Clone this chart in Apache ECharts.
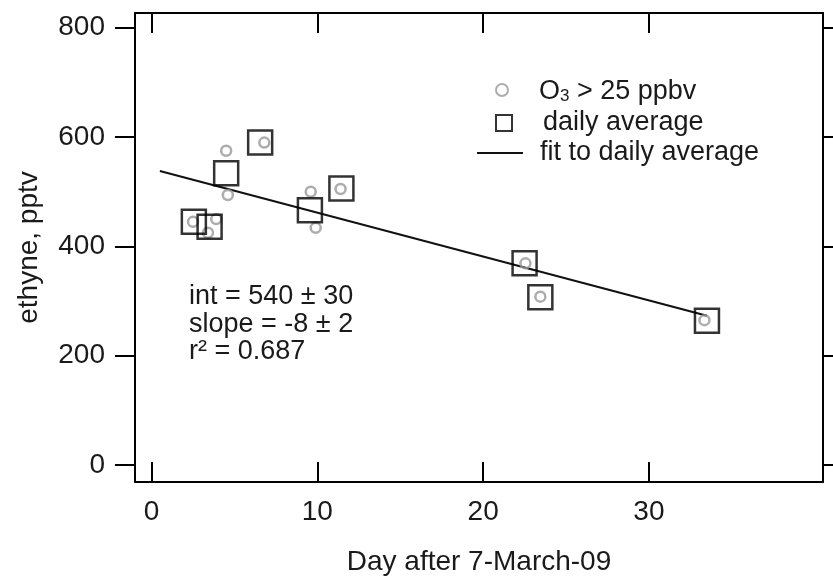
<!DOCTYPE html>
<html>
<head>
<meta charset="utf-8">
<script src="https://cdn.jsdelivr.net/npm/echarts@6/dist/echarts.min.js"></script>
<style>html,body{margin:0;padding:0;background:#fff}#c{width:833px;height:585px}</style>
</head>
<body>
<div id="c"></div>
<script>
// ---- data ----
var circleX = [2.5, 3.4, 3.9, 4.5, 4.6, 6.8, 9.6, 9.9, 11.4, 22.55, 23.45, 33.35];
var circleY = [445, 425, 450, 575, 494, 590, 500, 434, 505, 369, 308, 265];
var squareX = [2.55, 3.5, 4.5, 6.55, 9.55, 11.45, 22.5, 23.45, 33.5];
var squareY = [445, 436, 534, 590, 466, 506, 369, 307, 264];
var fitX = [0.5, 33.5];
var fitY = [538, 273];
var xTicks = [0, 10, 20, 30];
var yTicks = [0, 200, 400, 600, 800];
var statsLines = ['int = 540 \u00b1 30', 'slope = -8 \u00b1 2', 'r\u00b2 = 0.687'];

function pairs(xs, ys) { return xs.map(function (x, i) { return [x, ys[i]]; }); }

var FONT = '"Liberation Sans", Arial, Helvetica, sans-serif';
var TXT = '#1a1a1a';
var chart = echarts.init(document.getElementById('c'), null, { renderer: 'canvas' });

var xBase = { type: 'value', min: -1, max: 40.5, splitLine: { show: false },
  axisLine: { show: true, onZero: false, lineStyle: { color: '#000', width: 2 } } };
var yBase = { type: 'value', min: -31, max: 827, splitLine: { show: false },
  axisLine: { show: true, onZero: false, lineStyle: { color: '#000', width: 2 } } };

var legendText = { fontFamily: FONT, fontSize: 27, color: TXT, lineHeight: 30 };

chart.setOption({
  animation: false,
  grid: { left: 135, right: 10, top: 13, bottom: 103 },
  xAxis: [
    Object.assign({}, xBase, {
      position: 'bottom',
      name: 'Day after 7-March-09', nameLocation: 'middle', nameGap: 66,
      nameTextStyle: { fontFamily: FONT, fontSize: 28, color: TXT },
      axisTick: { show: true, inside: true, length: 20, customValues: xTicks, lineStyle: { color: '#000', width: 2 } },
      axisLabel: { show: true, margin: 16, customValues: xTicks, fontFamily: FONT, fontSize: 28, color: TXT }
    }),
    Object.assign({}, xBase, {
      position: 'top',
      axisTick: { show: true, inside: true, length: 20, customValues: xTicks, lineStyle: { color: '#000', width: 2 } },
      axisLabel: { show: false }
    })
  ],
  yAxis: [
    Object.assign({}, yBase, {
      position: 'left',
      name: 'ethyne, pptv', nameLocation: 'middle', nameGap: 92,
      nameTextStyle: { fontFamily: FONT, fontSize: 28, color: TXT },
      axisTick: { show: true, inside: false, length: 20, customValues: yTicks, lineStyle: { color: '#000', width: 2 } },
      axisLabel: { show: true, margin: 30, customValues: yTicks, fontFamily: FONT, fontSize: 28, color: TXT }
    }),
    Object.assign({}, yBase, {
      position: 'right',
      axisTick: { show: true, inside: false, length: 12, customValues: yTicks, lineStyle: { color: '#000', width: 2 } },
      axisLabel: { show: false }
    })
  ],
  legend: [
    { data: [{ name: 'O3', icon: 'circle' }], left: 495, top: 75, itemWidth: 12, itemHeight: 12,
      selectedMode: false, padding: 0,
      formatter: function () { return '{n|O}{s|3}{n| > 25 ppbv}'; },
      textStyle: Object.assign({}, legendText, { padding: [0, 0, 0, 26],
        rich: { n: { fontFamily: FONT, fontSize: 27, color: TXT, lineHeight: 30, verticalAlign: 'bottom' },
                s: { fontFamily: FONT, fontSize: 17, color: TXT, lineHeight: 17, verticalAlign: 'bottom' } } }) },
    { data: [{ name: 'daily average', icon: 'rect' }], left: 495, top: 108, itemWidth: 16, itemHeight: 16,
      selectedMode: false, padding: 0,
      textStyle: Object.assign({}, legendText, { padding: [0, 0, 0, 26] }) },
    { data: [{ name: 'fit to daily average', icon: 'rect', itemStyle: { color: '#111', borderWidth: 0 } }],
      left: 477, top: 138, itemWidth: 46, itemHeight: 2,
      selectedMode: false, padding: 0,
      textStyle: Object.assign({}, legendText, { padding: [0, 0, 0, 12] }) }
  ],
  graphic: [
    { type: 'text', left: 189, top: 283, silent: true,
      style: { text: statsLines.join('\n'), font: '27px ' + FONT, fill: TXT, lineHeight: 27.5 } }
  ],
  series: [
    { name: 'fit to daily average', type: 'line', data: pairs(fitX, fitY), symbol: 'none',
      lineStyle: { color: '#111', width: 2 }, itemStyle: { color: '#111' }, z: 2 },
    { name: 'O3', type: 'scatter', data: pairs(circleX, circleY), symbol: 'circle', symbolSize: 10,
      itemStyle: { color: 'rgba(255,255,255,0)', borderColor: '#999', borderWidth: 2.5 }, z: 3 },
    { name: 'daily average', type: 'scatter', data: pairs(squareX, squareY), symbol: 'rect', symbolSize: 24,
      itemStyle: { color: 'rgba(255,255,255,0)', borderColor: '#000', borderWidth: 2.5 }, z: 4 }
  ]
});
</script>
</body>
</html>
